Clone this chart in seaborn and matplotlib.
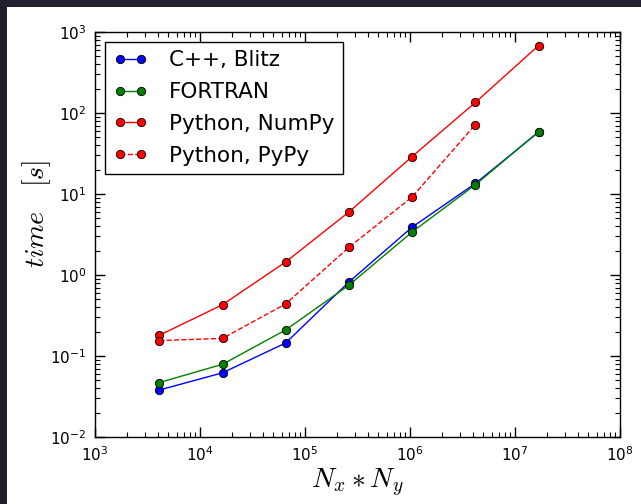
import matplotlib
matplotlib.use("Agg")
import matplotlib.pyplot as plt
import matplotlib.ticker as mticker
import numpy as np
import seaborn as sns
import pandas as pd

sns.set_theme(style="ticks", context="paper")
plt.rcParams["font.family"] = ["DejaVu Sans"]
plt.rcParams["mathtext.fontset"] = "cm"
plt.rcParams.update({"text.color": "black", "axes.labelcolor": "black",
                     "xtick.color": "black", "ytick.color": "black",
                     "axes.axisbelow": False})

# grid sizes N = Nx*Ny
grid_n = [64, 128, 256, 512, 1024, 2048, 4096]
n_points = [n * n for n in grid_n]

t_blitz = [0.038, 0.062, 0.145, 0.82, 3.9, 13.5, 58]
t_fortran = [0.047, 0.079, 0.21, 0.75, 3.4, 13.0, 59]
t_numpy = [0.18, 0.43, 1.45, 6.0, 29, 135, 680]
t_pypy = [0.155, 0.165, 0.44, 2.2, 9.2, 72]

labels = ["C++, Blitz", "FORTRAN", "Python, NumPy", "Python, PyPy"]
colors = ["blue", "green", "red", "red"]
dashes = ["-", "-", "-", "--"]

series = [t_blitz, t_fortran, t_numpy, t_pypy]

fig = plt.figure(figsize=(6.41, 5.04), dpi=100, facecolor="white")

# dark strips of the screenshot on the left and top
for rect in ([0, 0, 7 / 641, 1], [0, 1 - 7 / 504, 1, 7 / 504]):
    strip = fig.add_axes(rect, facecolor="#20202f")
    strip.set_xticks([])
    strip.set_yticks([])
    for sp in strip.spines.values():
        sp.set_visible(False)

ax = fig.add_axes([95 / 641, 67 / 504, 525 / 641, 405 / 504])

for lab, col, ls, vals in zip(labels, colors, dashes, series):
    df = pd.DataFrame({"N": n_points[:len(vals)], "time": vals})
    sns.lineplot(data=df, x="N", y="time", ax=ax, color=col, linestyle=ls,
                 linewidth=1, marker="o", markersize=6, markeredgecolor="black",
                 markeredgewidth=0.6, markerfacecolor=col, label=lab)

ax.set_xscale("log")
ax.set_yscale("log")
ax.set_xlim(1e3, 1e8)
ax.set_ylim(1e-2, 1e3)
for axis in (ax.xaxis, ax.yaxis):
    axis.set_major_locator(mticker.LogLocator(base=10, numticks=20))
    axis.set_minor_locator(mticker.LogLocator(base=10, subs=np.arange(2, 10),
                                              numticks=100))
    axis.set_minor_formatter(mticker.NullFormatter())

ax.set_xlabel(r"$N_x * N_y$", fontsize=20, labelpad=2)
ax.set_ylabel(r"$time \quad [s]$", fontsize=20)
ax.yaxis.set_label_coords(-0.08, 0.55)

for sp in ax.spines.values():
    sp.set_color("black")
    sp.set_linewidth(1)

leg = ax.legend(loc="upper left", fontsize=15.5, frameon=True, fancybox=False,
                numpoints=2, handlelength=1.6, borderpad=0.4, labelspacing=0.55,
                handletextpad=1.0, borderaxespad=0.45)
leg.get_frame().set_edgecolor("black")
leg.get_frame().set_linewidth(1)
leg.get_frame().set_alpha(1)

# inward ticks on all four sides, set last
ax.tick_params(which="both", direction="in", bottom=True, left=True, top=True,
               right=True, labelsize=11, pad=6, color="black")
ax.tick_params(which="major", length=7, width=1)
ax.tick_params(which="minor", length=3.5, width=0.8)

fig.savefig("out.png", dpi=100, facecolor=fig.get_facecolor())
